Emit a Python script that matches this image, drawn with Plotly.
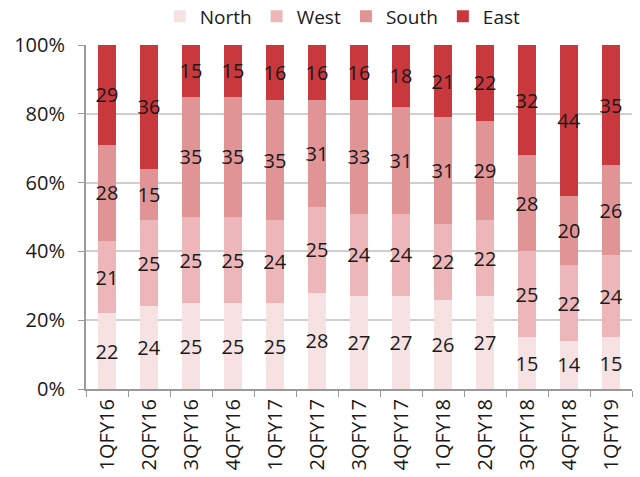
import plotly.graph_objects as go

categories = ["1QFY16","2QFY16","3QFY16","4QFY16","1QFY17","2QFY17","3QFY17","4QFY17",
              "1QFY18","2QFY18","3QFY18","4QFY18","1QFY19"]
north = [22,24,25,25,25,28,27,27,26,27,15,14,15]
west  = [21,25,25,25,24,25,24,24,22,22,25,22,24]
south = [28,15,35,35,35,31,33,31,31,29,28,20,26]
east  = [29,36,15,15,16,16,16,18,21,22,32,44,35]

series = [("North", north, "#F7E2E3"), ("West", west, "#EDB6B8"),
          ("South", south, "#E09496"), ("East", east, "#C8383D")]

fig = go.Figure()
for name, vals, col in series:
    fig.add_trace(go.Bar(x=categories, y=vals, name=name, marker_color=col,
                         marker_line_width=0, text=[str(v) for v in vals],
                         textposition="inside", insidetextanchor="middle",
                         textangle=0, constraintext="none",
                         textfont=dict(size=20, color="#1a1a1a")))

fig.update_layout(
    barmode="stack", bargap=0.59,
    width=640, height=477,
    margin=dict(l=86, r=8, t=45, b=88, autoexpand=False),
    paper_bgcolor="white", plot_bgcolor="white",
    font=dict(family="Open Sans, Noto Sans, sans-serif", color="#1a1a1a"),
    uniformtext=dict(mode=False),
    legend=dict(orientation="h", x=0.135, xanchor="left", y=1.083, yanchor="middle",
                font=dict(size=19), traceorder="normal", itemwidth=30,
                bgcolor="rgba(0,0,0,0)"),
    showlegend=True,
)
fig.update_yaxes(range=[0, 100], tickvals=[0,20,40,60,80,100],
                 ticktext=["0%","20%","40%","60%","80%","100%"],
                 showgrid=True, gridcolor="#CFCFCF", gridwidth=1.5,
                 showline=True, linecolor="#9A9A9A", linewidth=2,
                 ticks="outside", ticklen=6, tickcolor="#9A9A9A",
                 ticklabelstandoff=9,
                 tickfont=dict(size=20), zeroline=False)
fig.update_xaxes(tickangle=-90, tickfont=dict(size=20),
                 showline=True, linecolor="#9A9A9A", linewidth=2,
                 ticks="outside", ticklen=6, tickcolor="#9A9A9A",
                 tickson="boundaries")

fig.write_html("out.html")
